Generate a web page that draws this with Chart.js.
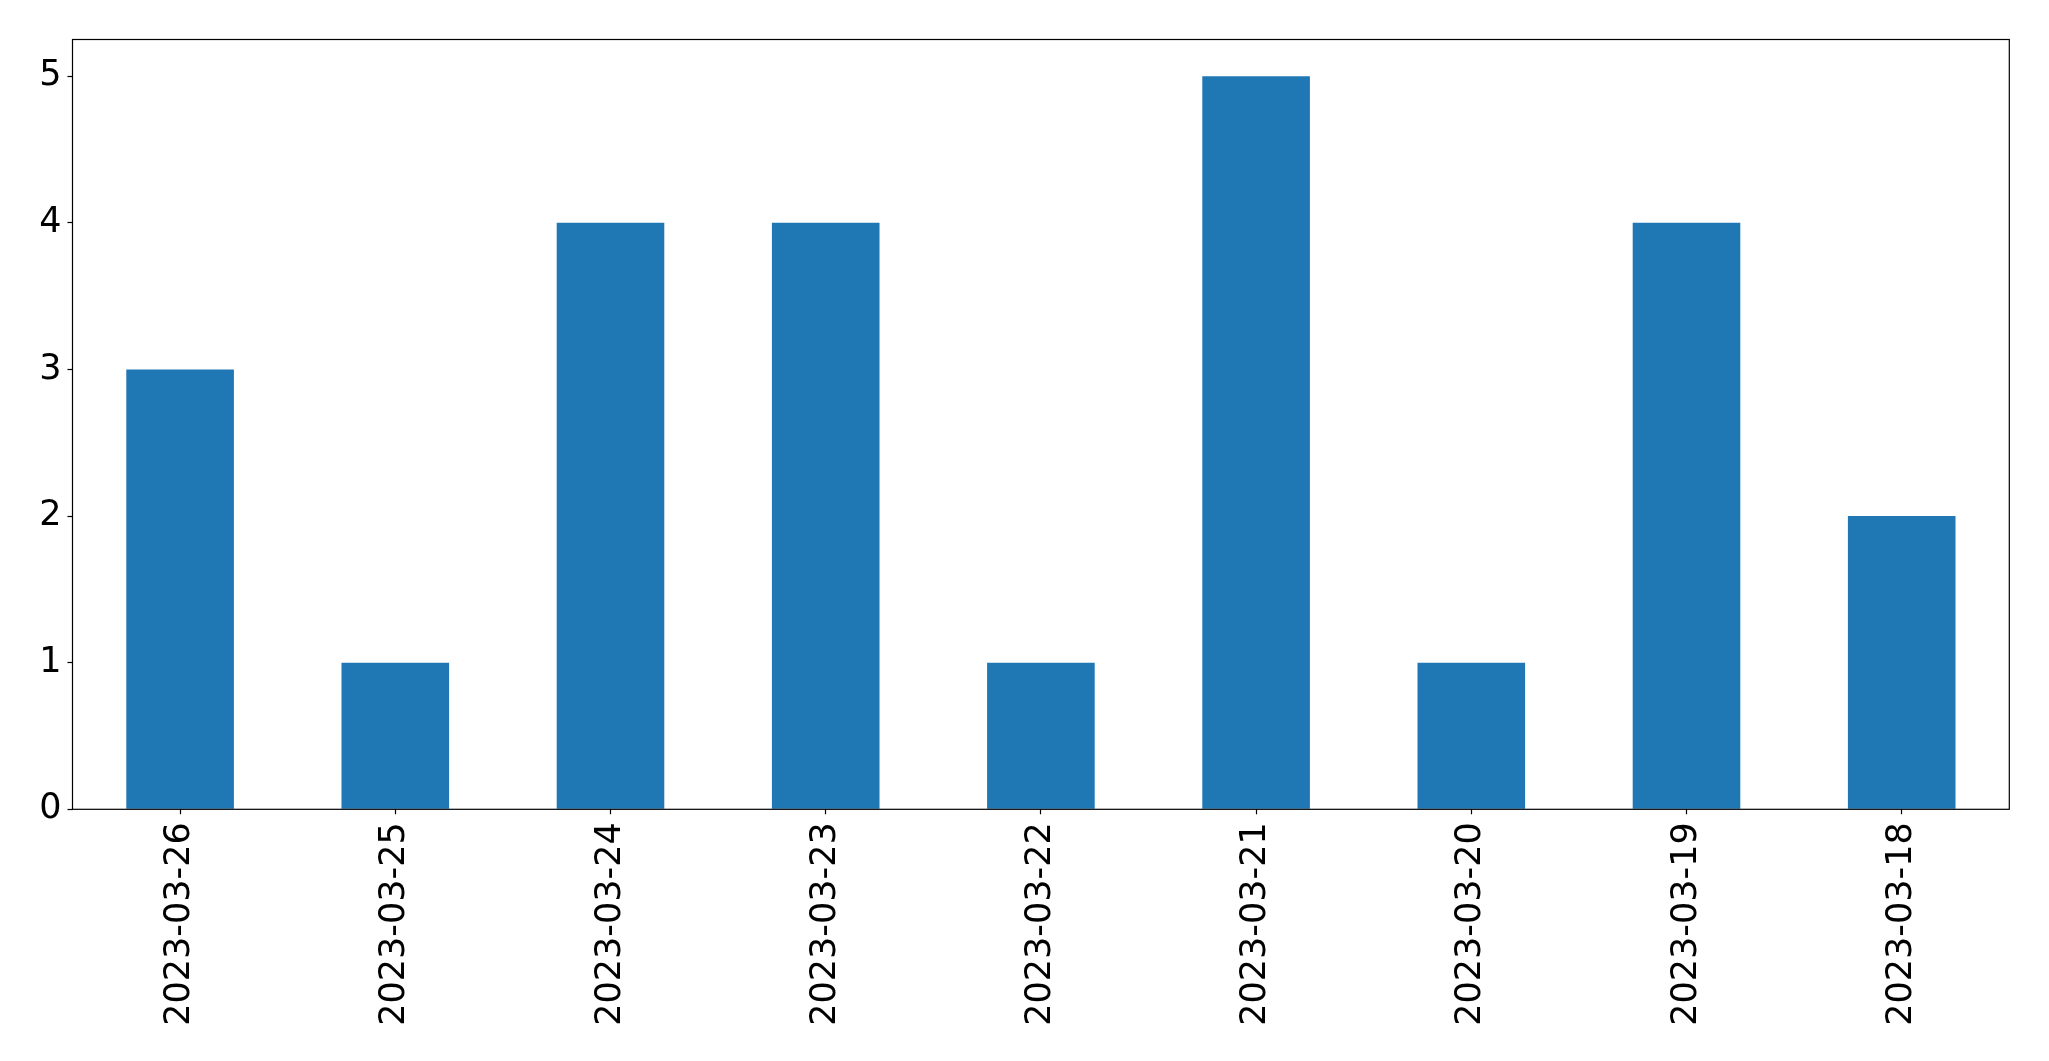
<!DOCTYPE html>
<html>
<head>
<meta charset="utf-8">
<script src="https://cdn.jsdelivr.net/npm/chart.js@4.4.0/dist/chart.umd.min.js"></script>
<style>
  html, body { margin: 0; padding: 0; background: #ffffff; }
  #wrap { width: 2049px; height: 1061px; }
</style>
</head>
<body>
<div id="wrap"><canvas id="chart" width="2049" height="1061"></canvas></div>
<script>
// data
const dates = ['2023-03-26', '2023-03-25', '2023-03-24', '2023-03-23', '2023-03-22',
               '2023-03-21', '2023-03-20', '2023-03-19', '2023-03-18'];
const counts = [3, 1, 4, 4, 1, 5, 1, 4, 2];
const yTicks = [0, 1, 2, 3, 4, 5];

// plot frame in page pixels
const frame = { left: 72.5, top: 39.5, right: 2009.3, bottom: 809.3 };

const frameBorder = {
    id: 'frameBorder',
    afterDatasetsDraw(chart) {
        const a = chart.chartArea;
        const ctx = chart.ctx;
        ctx.save();
        ctx.strokeStyle = '#000000';
        ctx.lineWidth = 1.2;
        ctx.strokeRect(a.left, a.top, a.right - a.left, a.bottom - a.top);
        ctx.restore();
    }
};

Chart.defaults.font.family = '"DejaVu Sans", sans-serif';
Chart.defaults.color = '#000000';

new Chart(document.getElementById('chart'), {
    type: 'bar',
    data: {
        labels: dates,
        datasets: [{
            data: counts,
            backgroundColor: '#1f77b4',
            borderWidth: 0,
            categoryPercentage: 1.0,
            barPercentage: 0.5
        }]
    },
    options: {
        responsive: false,
        animation: false,
        devicePixelRatio: 1,
        layout: { padding: { left: 0, top: frame.top, right: 2049 - frame.right, bottom: 0 } },
        plugins: { legend: { display: false }, tooltip: { enabled: false } },
        scales: {
            x: {
                offset: true,
                grid: { display: true, offset: false, drawOnChartArea: false, drawTicks: true, tickLength: 5, tickColor: '#000000', tickWidth: 1.2 },
                border: { display: false },
                ticks: { font: { size: 35 }, maxRotation: 90, minRotation: 90, padding: 8, autoSkip: false },
                afterFit(scale) { scale.height = 1061 - frame.bottom; }
            },
            y: {
                min: 0,
                max: 5.25,
                grid: { display: true, drawOnChartArea: false, drawTicks: true, tickLength: 5, tickColor: '#000000', tickWidth: 1.2 },
                border: { display: false },
                ticks: { font: { size: 35 }, padding: 6 },
                afterBuildTicks(scale) { scale.ticks = yTicks.map(v => ({ value: v })); },
                afterFit(scale) { scale.width = frame.left; }
            }
        }
    },
    plugins: [frameBorder]
});
</script>
</body>
</html>
